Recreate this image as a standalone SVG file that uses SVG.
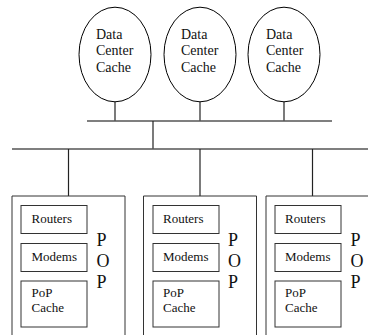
<svg xmlns="http://www.w3.org/2000/svg" width="368" height="335" viewBox="0 0 368 335">
<style>
.bg{fill:#fff}
.ell{fill:#fff;stroke:#000;stroke-width:1}
.lbl{font-family:"Liberation Serif",serif;font-size:14px;fill:#111}
.sm{font-family:"Liberation Serif",serif;font-size:13px;fill:#111}
.pop{font-family:"Liberation Serif",serif;font-size:18px;fill:#111}
.box{fill:none;stroke:#333;stroke-width:1}
.bus{stroke:#555;stroke-width:1.6;fill:none}
.stem{stroke:#222;stroke-width:1.2;fill:none}
</style>
<rect class="bg" x="0" y="0" width="368" height="335"/>
<g id="connectors">
<line class="stem" x1="115" y1="102" x2="115" y2="121"/>
<line class="stem" x1="200" y1="102" x2="200" y2="121"/>
<line class="stem" x1="284" y1="102" x2="284" y2="121"/>
<line class="bus" x1="87" y1="121" x2="332" y2="121"/>
<line class="stem" x1="153" y1="121" x2="153" y2="149"/>
<line class="bus" x1="12" y1="149" x2="368" y2="149"/>
<line class="stem" x1="68.5" y1="149" x2="68.5" y2="196"/>
<line class="stem" x1="200" y1="149" x2="200" y2="196"/>
<line class="stem" x1="312.5" y1="149" x2="312.5" y2="196"/>
</g>
<g id="dc1">
<ellipse class="ell" cx="115" cy="54.5" rx="36" ry="47.3"/>
<text class="lbl" x="96" y="38.5">Data</text>
<text class="lbl" x="96" y="55">Center</text>
<text class="lbl" x="96" y="71.5">Cache</text>
</g>
<g id="dc2">
<ellipse class="ell" cx="200" cy="54.5" rx="36" ry="47.3"/>
<text class="lbl" x="181" y="38.5">Data</text>
<text class="lbl" x="181" y="55">Center</text>
<text class="lbl" x="181" y="71.5">Cache</text>
</g>
<g id="dc3">
<ellipse class="ell" cx="284" cy="54.5" rx="36" ry="47.3"/>
<text class="lbl" x="266" y="38.5">Data</text>
<text class="lbl" x="266" y="55">Center</text>
<text class="lbl" x="266" y="71.5">Cache</text>
</g>
<g id="pop1">
<polyline class="box" points="12,336 12,196 125,196 125,336"/>
<rect class="box" x="21" y="205.5" width="66" height="28"/>
<text class="sm" x="31.5" y="222.5">Routers</text>
<rect class="box" x="21" y="243.5" width="66" height="28"/>
<text class="sm" x="31.5" y="261">Modems</text>
<rect class="box" x="21" y="281" width="66" height="46"/>
<text class="sm" x="31.5" y="297">PoP</text>
<text class="sm" x="31.5" y="312">Cache</text>
<text class="pop" x="96.5" y="246">P</text>
<text class="pop" x="96.5" y="267">O</text>
<text class="pop" x="96.5" y="288">P</text>
</g>
<g id="pop2">
<polyline class="box" points="143.5,336 143.5,196 256.5,196 256.5,336"/>
<rect class="box" x="153" y="205.5" width="66" height="28"/>
<text class="sm" x="163" y="222.5">Routers</text>
<rect class="box" x="153" y="243.5" width="66" height="28"/>
<text class="sm" x="163" y="261">Modems</text>
<rect class="box" x="153" y="281" width="66" height="46"/>
<text class="sm" x="163" y="297">PoP</text>
<text class="sm" x="163" y="312">Cache</text>
<text class="pop" x="228" y="246">P</text>
<text class="pop" x="228" y="267">O</text>
<text class="pop" x="228" y="288">P</text>
</g>
<g id="pop3">
<polyline class="box" points="266,336 266,196 380,196 380,336"/>
<rect class="box" x="275" y="205.5" width="66" height="28"/>
<text class="sm" x="285" y="222.5">Routers</text>
<rect class="box" x="275" y="243.5" width="66" height="28"/>
<text class="sm" x="285" y="261">Modems</text>
<rect class="box" x="275" y="281" width="66" height="46"/>
<text class="sm" x="285" y="297">PoP</text>
<text class="sm" x="285" y="312">Cache</text>
<text class="pop" x="350.5" y="246">P</text>
<text class="pop" x="350.5" y="267">O</text>
<text class="pop" x="350.5" y="288">P</text>
</g>
</svg>
